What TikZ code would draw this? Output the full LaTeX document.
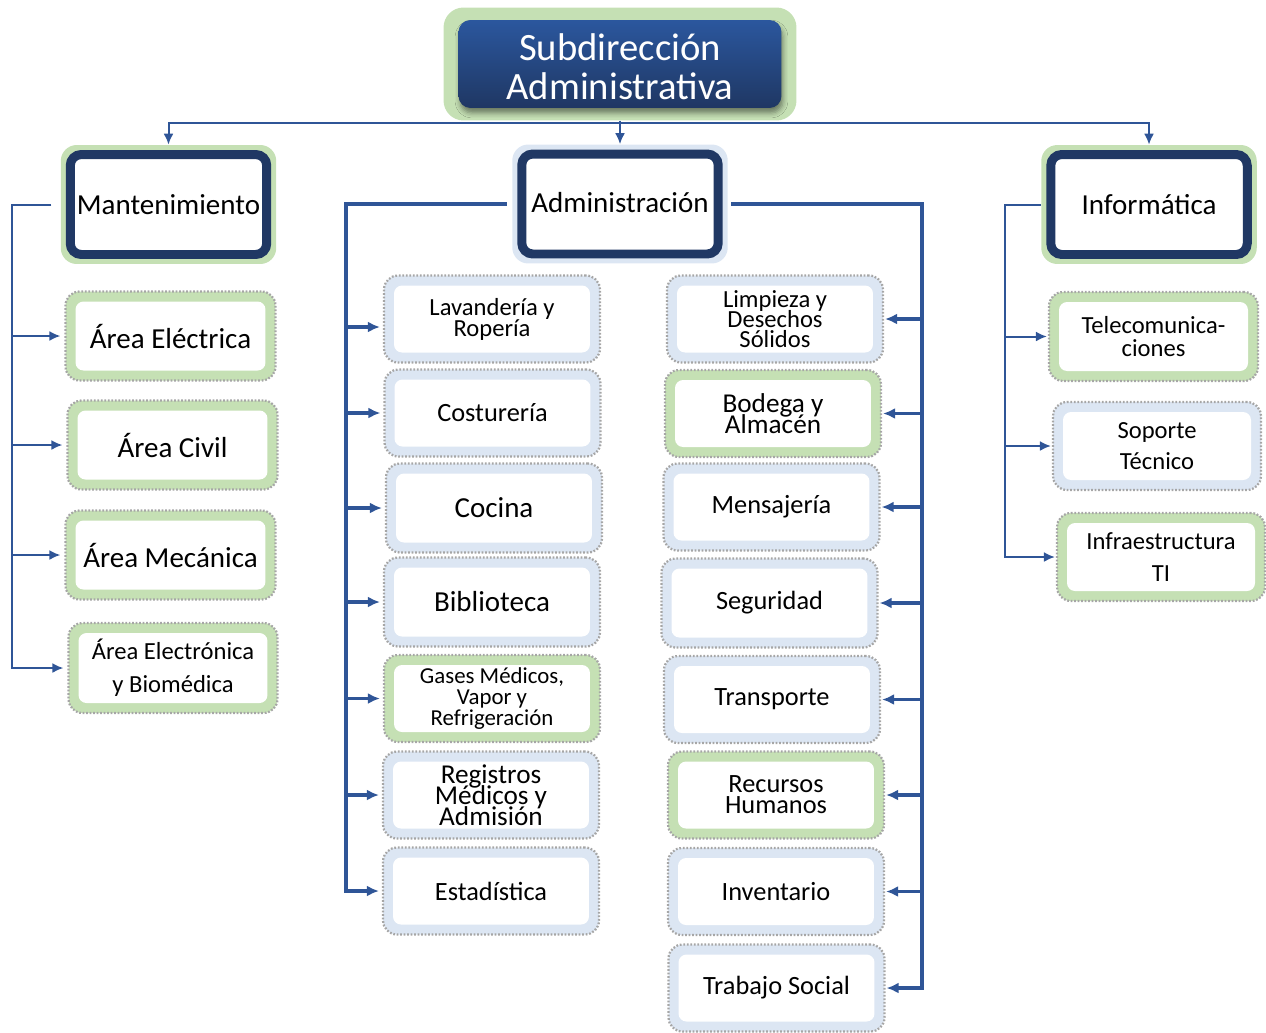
\documentclass[tikz,border=0pt]{standalone}
\usepackage{fontspec}
\setmainfont{Carlito}
\usetikzlibrary{arrows.meta,shadows.blur}

\definecolor{navy}{HTML}{203864}
\definecolor{lgreen}{HTML}{C5E0B4}
\definecolor{lblue}{HTML}{DCE6F3}
\definecolor{linkblue}{HTML}{2F5597}
\definecolor{dotgray}{HTML}{A6A6A6}
\definecolor{titletop}{HTML}{2B579E}
\definecolor{titlebot}{HTML}{1F3763}

% font size / baseline skip, lines may sit closer than their glyphs
\newcommand\fsz[2]{\fontsize{#1pt}{#2pt}\selectfont\lineskiplimit=-100pt\relax}

\tikzset{
  % dotted coloured frame around a white rounded panel
  child/.style={
    rounded corners=0.28cm, fill=#1, draw=dotgray, line width=0.045cm,
    dash pattern=on 0.035cm off 0.035cm, inner sep=0pt, align=center,
    minimum width=4.32cm, minimum height=1.74cm, text=black,
    path picture={\fill[white,rounded corners=0.16cm]
      ([shift={(0.2cm,-0.2cm)}]path picture bounding box.north west) rectangle
      ([shift={(-0.2cm,0.2cm)}]path picture bounding box.south east);}
  },
  % department header: coloured halo, thick navy frame, white panel
  mainbox/.style={
    rounded corners=0.32cm, fill=#1, inner sep=0pt, align=center,
    minimum width=4.31cm, minimum height=2.38cm, font=\fsz{16.5}{20},
    path picture={\draw[navy, line width=0.18cm, fill=white, rounded corners=0.22cm]
      ([shift={(0.19cm,-0.19cm)}]path picture bounding box.north west) rectangle
      ([shift={(-0.19cm,0.19cm)}]path picture bounding box.south east);}
  },
  titlebox/.style={
    rounded corners=0.24cm, top color=titletop, bottom color=titlebot,
    minimum width=6.46cm, minimum height=1.76cm, inner sep=0pt,
    blur shadow={shadow xshift=0.03cm, shadow yshift=-0.1cm, shadow blur radius=0.1cm, shadow opacity=45}
  },
  titletext/.style={text=white, font=\fsz{22}{22}, align=center, inner sep=0pt},
  link/.style={draw=linkblue, line width=0.04cm, -{Latex[length=0.22cm,width=0.2cm]}},
  linkthick/.style={draw=linkblue, line width=0.065cm, -{Latex[length=0.24cm,width=0.22cm]}},
  fA/.style={font=\fsz{16.5}{19}},
  fB/.style={font=\fsz{15}{18}},
}

\begin{document}
\begin{tikzpicture}[x=0.02cm, y=-0.02cm]
\useasboundingbox (0,0) rectangle (1266,1032);

% top of the chart
\node[fill=lgreen, rounded corners=0.4cm, minimum width=7.06cm, minimum height=2.26cm] (topbg) at (620,64) {};
\node[titlebox] (top) at (620,64) {};
\node[titletext] (toptext) at (620,66.5) {Subdirección\\Administrativa};

% department headers
\node[mainbox=lgreen] (mant) at (168.5,204.5) {Mantenimiento};
\node[mainbox=lblue]  (adm)  at (620,204) {\raisebox{0.06cm}{Administración}};
\node[mainbox=lgreen] (inf)  at (1149,204.5) {Informática};

% Mantenimiento units
\node[child=lgreen, fA, minimum width=4.2cm, minimum height=1.78cm] (elec)  at (170.5,336) {Área Eléctrica};
\node[child=lgreen, fA, minimum width=4.2cm, minimum height=1.78cm] (civil) at (172.5,445) {Área Civil};
\node[child=lgreen, fA, minimum width=4.2cm, minimum height=1.78cm] (mec)   at (170.5,555) {Área Mecánica};
\node[child=lgreen, font=\fsz{14}{18.7}, minimum width=4.18cm, minimum height=1.8cm] (elect) at (173,668) {Área Electrónica\\y Biomédica};

% Administración units, left column
\node[child=lblue, font=\fsz{14}{12}] (lav)  at (492,319) {Lavandería y\\Ropería};
\node[child=lblue, fB] (cost) at (492.5,413) {Costurería};
\node[child=lblue, fA, minimum height=1.78cm] (coc)  at (494,508) {Cocina};
\node[child=lblue, fA, minimum height=1.78cm] (bib)  at (492,602) {Biblioteca};
\node[child=lgreen, font=\fsz{13}{12}] (gas)  at (492,698.5) {Gases Médicos,\\Vapor y\\Refrigeración};
\node[child=lblue, font=\fsz{15.5}{12}] (reg)  at (491,795) {Registros\\Médicos y\\Admisión};
\node[child=lblue, fB] (est)  at (491,891) {Estadística};

% Administración units, right column
\node[child=lblue, font=\fsz{14}{11.5}] (limp) at (775,319) {Limpieza y\\Desechos\\Sólidos};
\node[child=lgreen, font=\fsz{15.5}{12}] (bod) at (773,413.5) {Bodega y\\Almacén};
\node[child=lblue, fB] (mens) at (771.5,507) {Mensajería};
\node[child=lblue, fB, minimum height=1.78cm] (seg)  at (769.5,603) {Seguridad};
\node[child=lblue, fB] (trans) at (772,699.5) {Transporte};
\node[child=lgreen, font=\fsz{15}{12}] (rrhh) at (776,795) {Recursos\\Humanos};
\node[child=lblue, fB] (inv)  at (776,891.5) {Inventario};
\node[child=lblue, fB] (trab) at (776.5,988) {Trabajo Social};

% Informática units
\node[child=lgreen, font=\fsz{14}{13.6}, minimum width=4.18cm, minimum height=1.78cm] (tele) at (1153.5,336.5) {Telecomunica-\\ciones};
\node[child=lblue, font=\fsz{14}{18}, minimum width=4.16cm, minimum height=1.76cm] (sop) at (1157,446) {Soporte\\Técnico};
\node[child=lgreen, font=\fsz{14}{18}, minimum width=4.16cm, minimum height=1.76cm] (infra) at (1161,557) {Infraestructura\\TI};

% top level connectors
\coordinate (hub) at (620,123);
\draw[link] (topbg.south) -- (hub) -| (mant.north);
\draw[link] (hub) -| (inf.north);
\draw[link] (topbg.south) -- (adm.north);

% Mantenimiento branch
\path (mant.west) ++(-48.5,0) coordinate (ms);
\draw[link, shorten <=0.18cm, shorten >=0.08cm] (mant.west) -- (ms) |- (elect.west);
\foreach \c in {elec,civil,mec}
  \draw[link, shorten >=0.08cm] (ms |- \c.west) -- (\c.west);

% Administración branches
\path (adm.west) ++(-166,0) coordinate (al);
\path (adm.east) ++(194,0) coordinate (ar);
\coordinate (lavin) at ([yshift=-0.16cm]lav.west);
\draw[linkthick, shorten <=0.1cm, shorten >=0.06cm] (adm.west) -- (al) |- (est.west);
\draw[linkthick, shorten >=0.06cm] (al |- lavin) -- (lavin);
\foreach \c in {cost,coc,bib,gas,reg}
  \draw[linkthick, shorten >=0.06cm] (al |- \c.west) -- (\c.west);
\draw[linkthick, shorten <=0.06cm, shorten >=0.02cm] (adm.east) -- (ar) |- (trab.east);
\foreach \c in {limp,bod,mens,seg,trans,rrhh,inv}
  \draw[linkthick, shorten >=0.02cm] (ar |- \c.east) -- (\c.east);

% Informática branch
\path (inf.west) ++(-36,0) coordinate (is);
\draw[link, shorten >=0.02cm] (inf.west) -- (is) |- (infra.west);
\foreach \c in {tele,sop}
  \draw[link, shorten >=0.02cm] (is |- \c.west) -- (\c.west);
\end{tikzpicture}
\end{document}
